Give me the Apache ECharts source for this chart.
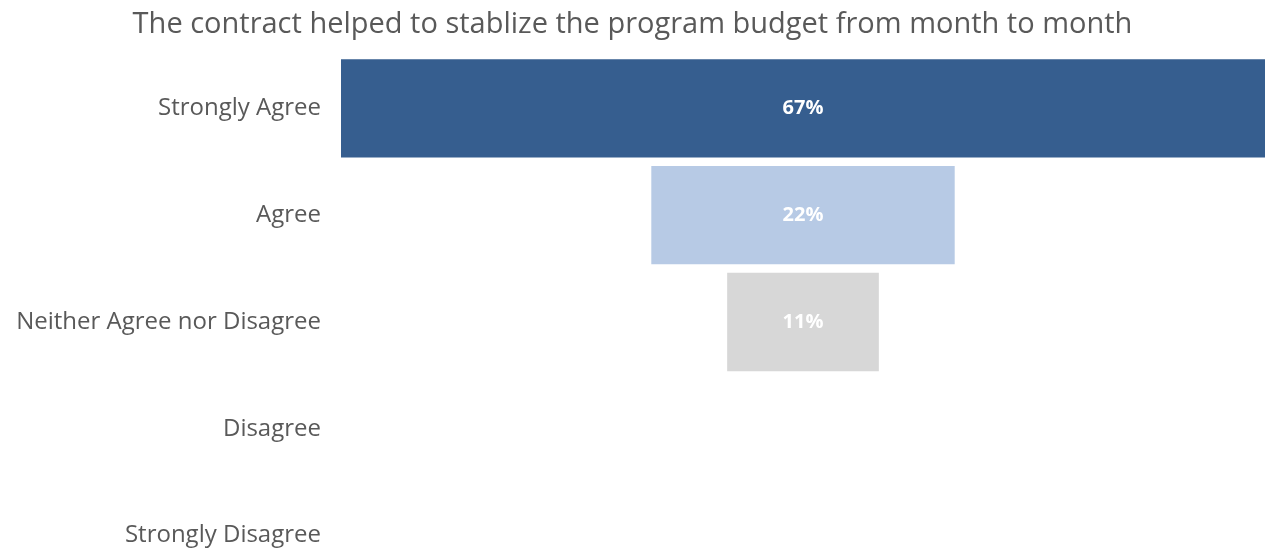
<!DOCTYPE html>
<html>
<head>
<meta charset="utf-8">
<script src="https://cdn.jsdelivr.net/npm/echarts@6/dist/echarts.min.js"></script>
<style>
  html, body { margin: 0; padding: 0; background: #fff; overflow: hidden; }
  /* the last row runs past the bottom edge of the picture, so the chart is taller than the window */
  #chart { width: 1265px; height: 590px; }
</style>
</head>
<body>
<div id="chart"></div>
<script>
const categories = ["Strongly Agree", "Agree", "Neither Agree nor Disagree", "Disagree", "Strongly Disagree"]
const shares = [67, 22, 11, 0, 0]
const barColors = ["#365E8F", "#B7CAE5", "#D7D7D7", "#D7D7D7", "#D7D7D7"]

// widest bar fills the plot; the others are centred on it
const maxShare = Math.max(...shares)
const padding = shares.map(v => (maxShare - v) / 2)

const chart = echarts.init(document.getElementById("chart"))
const option = {
    animation: false,
    title: {
        text: "The contract helped to stablize the program budget from month to month",
        left: "center",
        top: 5,
        textStyle: {
            fontFamily: "Open Sans",
            fontSize: 29,
            fontWeight: "normal",
            color: "#595959"
        }
    },
    grid: {
        left: 341,
        right: 0,
        top: 55,
        height: 534
    },
    xAxis: {
        type: "value",
        min: 0,
        max: maxShare,
        show: false
    },
    yAxis: {
        type: "category",
        inverse: true,
        data: categories,
        axisLine: { show: false },
        axisTick: { show: false },
        axisLabel: {
            margin: 20,
            fontFamily: "Open Sans",
            fontSize: 24,
            color: "#595959"
        }
    },
    series: [
        {
            type: "bar",
            stack: "funnel",
            data: padding,
            itemStyle: { color: "transparent" },
            silent: true
        },
        {
            type: "bar",
            stack: "funnel",
            barCategoryGap: "8%",
            data: shares.map((v, i) => ({ value: v, itemStyle: { color: barColors[i] } })),
            label: {
                show: true,
                position: "inside",
                formatter: p => p.value > 0 ? p.value + "%" : "",
                fontFamily: "Open Sans",
                fontSize: 20,
                fontWeight: "bold",
                color: "#fff"
            }
        }
    ]
}
chart.setOption(option)
</script>
</body>
</html>
